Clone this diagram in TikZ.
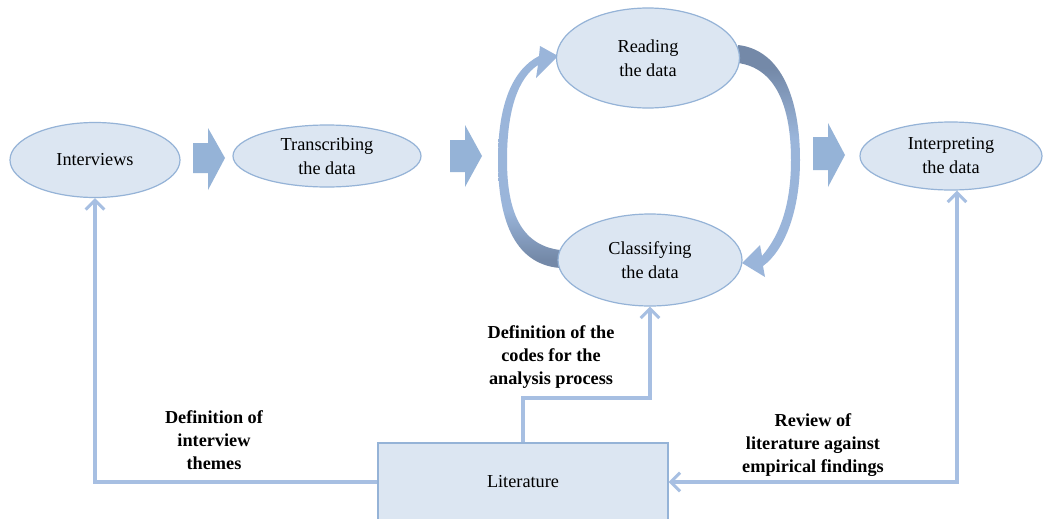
\documentclass[tikz,border=0pt]{standalone}
\usepackage{fontspec}
\setmainfont{Liberation Serif}
\usetikzlibrary{shapes.geometric,arrows.meta}
\definecolor{ellfill}{HTML}{DCE6F2}
\definecolor{ellline}{HTML}{95B3D7}
\definecolor{blockarr}{HTML}{95B3D7}
\definecolor{connline}{HTML}{A7BFE2}
\definecolor{arclight}{HTML}{9AB5DA}
\definecolor{arcdark}{HTML}{7489A8}
% dark tail at the bottom / at the top of a cycle arrow
\pgfdeclareverticalshading{tailbottom}{100bp}{color(0bp)=(arcdark); color(27bp)=(arcdark);
  color(38bp)=(arclight); color(100bp)=(arclight)}
\pgfdeclareverticalshading{tailtop}{100bp}{color(0bp)=(arclight); color(55bp)=(arclight);
  color(70bp)=(arcdark); color(100bp)=(arcdark)}
\begin{document}
\begin{tikzpicture}[x=0.75pt,y=-0.75pt,
  stage/.style={ellipse, draw=ellline, line width=0.9pt, fill=ellfill, inner sep=0pt,
    align=center, font=\fontsize{13.7}{18}\selectfont},
  srcbox/.style={rectangle, draw=ellline, line width=0.9pt, fill=ellfill, inner sep=0pt,
    font=\fontsize{13.7}{18}\selectfont},
  blockarrow/.style={fill=blockarr, draw=none},
  conn/.style={draw=connline, line width=2.3pt},
  barb/.tip={Straight Barb[length=7pt,width=14pt]},
  lbl/.style={align=center, font=\bfseries\fontsize{13.7}{17.2}\selectfont}]
\useasboundingbox[fill=white] (0,0) rectangle (1043,518);

% cycle arrows between reading and classifying (drawn beneath the ellipses)
\shade[shading=tailbottom]
  (560,268) .. controls (512,264) and (498,215) .. (498,160)
  .. controls (498,105) and (512,70) .. (539,56)
  -- (540,46) -- (558,56) -- (536,78) -- (538,65)
  .. controls (518,78) and (507,110) .. (507,160)
  .. controls (507,210) and (520,245) .. (560,250) -- cycle;
\shade[shading=tailtop]
  (738,45) .. controls (782,50) and (800,100) .. (800,160)
  .. controls (800,210) and (785,250) .. (763,266)
  -- (765,277) -- (742,263) -- (760,245) -- (762,256)
  .. controls (780,235) and (791,205) .. (791,160)
  .. controls (791,105) and (775,68) .. (738,63) -- cycle;

% stages
\node[stage, minimum width=127.5pt, minimum height=56.25pt] (intv) at (95,160) {Interviews};
\node[stage, minimum width=141pt, minimum height=46.5pt] (trans) at (327,156) {Transcribing\\the data};
\node[stage, minimum width=137.25pt, minimum height=75pt] (read) at (648,58) {Reading\\the data};
\node[stage, minimum width=138pt, minimum height=69pt] (cls) at (650,260) {Classifying\\the data};
\node[stage, minimum width=136.5pt, minimum height=51pt] (interp) at (951,156) {Interpreting\\the data};
\node[srcbox, minimum width=217.5pt, minimum height=58.5pt] (lit) at (523,482) {Literature};

% block arrows along the main flow
\fill[blockarrow] (193,143) -- (208,143) -- (208,128) -- (225,158) -- (208,190) -- (208,173) -- (193,173) -- cycle;
\fill[blockarrow] (450,140) -- (465,140) -- (465,125) -- (482,156) -- (465,187) -- (465,172) -- (450,172) -- cycle;
\fill[blockarrow] (813,137) -- (828,137) -- (828,123) -- (845,155) -- (828,187) -- (828,170) -- (813,170) -- cycle;

% links from the literature
\coordinate (midbend) at (523,398);
\draw[conn, -{barb}] (lit.west) -| (intv.south);
\draw[conn, -{barb}] (lit.north) -- (midbend) -| (cls.south);
\draw[conn, {barb}-{barb}] (lit.east) -| ([xshift=4.5pt]interp.south);

% link labels
\node[lbl] (lblthemes) at (214,440) {Definition of\\interview\\themes};
\node[lbl] (lblcodes) at (551,357) {Definition of the\\codes for the\\analysis process};
\node[lbl] (lblreview) at (813,445) {Review of\\literature against\\empirical findings};
\end{tikzpicture}
\end{document}
